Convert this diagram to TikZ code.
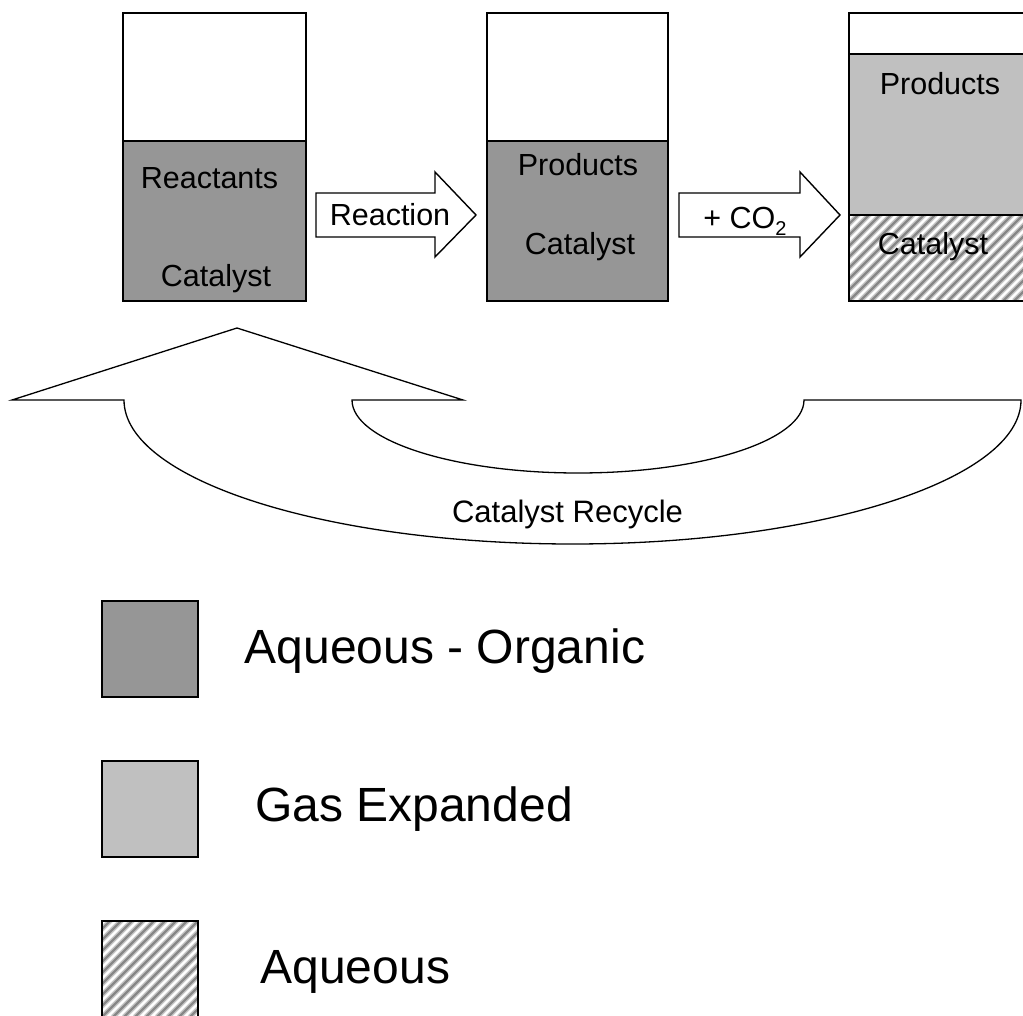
\documentclass[tikz,border=0pt]{standalone}
\usepackage{fontspec}
\setmainfont{Liberation Sans}
\definecolor{darkfill}{RGB}{150,150,150}
\definecolor{lightfill}{RGB}{192,192,192}
\definecolor{hatchsoft}{RGB}{200,200,200}
\definecolor{hatchcore}{RGB}{135,135,135}
\newcommand{\hatchrect}[4]{%
  \begin{scope}
    \clip (#1,#2) rectangle (#3,#4);
    \foreach \k in {-40,...,40}{
      \draw[hatchsoft,line width=5pt] ({#1+\k*11},#2) -- ++(200,200);
      \draw[hatchcore,line width=2.2pt] ({#1+\k*11},#2) -- ++(200,200);
    }
  \end{scope}}
\begin{document}
\begin{tikzpicture}[x=1pt,y=1pt,
  vessel/.style={draw=black,line width=2pt},
  blockarrow/.style={draw=black,fill=white,line width=1.4pt,line join=miter},
  boxtext/.style={anchor=base,inner sep=0pt,font=\fontsize{30.5}{34}\selectfont},
  rectext/.style={anchor=base,inner sep=0pt,font=\fontsize{31}{35}\selectfont},
  legtext/.style={anchor=base,inner sep=0pt,font=\fontsize{48}{54}\selectfont}]
\clip (0,0) rectangle (1023,-1016);
\fill[white] (0,0) rectangle (1023,-1016);

% Vessel 1
\fill[darkfill] (123,-141) rectangle (306,-301);
\draw[vessel] (123,-13) rectangle (306,-301);
\draw[vessel] (123,-141) -- (306,-141);
\node[boxtext] (reactants) at (209.5,-188.5) {Reactants};
\node[boxtext] (cat1) at (216,-287) {Catalyst};

% Reaction arrow
\draw[blockarrow] (316,-193) -- (435,-193) -- (435,-172) -- (476,-215) -- (435,-257) -- (435,-237) -- (316,-237) -- cycle;
\node[boxtext] (reaction) at (390,-226) {Reaction};

% Vessel 2
\fill[darkfill] (487,-141) rectangle (668,-301);
\draw[vessel] (487,-13) rectangle (668,-301);
\draw[vessel] (487,-141) -- (668,-141);
\node[boxtext] (prod2) at (578,-176) {Products};
\node[boxtext] (cat2) at (580,-255) {Catalyst};

% CO2 arrow
\draw[blockarrow] (679,-193) -- (800,-193) -- (800,-172) -- (840,-215) -- (800,-257) -- (800,-237) -- (679,-237) -- cycle;
\node[boxtext] (co2) at (745,-229) {+ CO\raisebox{-0.2em}{\fontsize{20}{22}\selectfont 2}};

% Vessel 3
\fill[lightfill] (849,-54) rectangle (1032,-215);
\hatchrect{849}{-301}{1032}{-215}
\draw[vessel] (849,-13) rectangle (1032,-301);
\draw[vessel] (849,-54) -- (1032,-54);
\draw[vessel] (849,-215) -- (1032,-215);
\node[boxtext] (prod3) at (940,-95) {Products};
\node[boxtext] (cat3) at (933,-255) {Catalyst};

% Recycle arrow
\draw[blockarrow,line width=1.3pt] (12,-400) -- (237,-328) -- (463,-400) -- (352,-400)
  arc[start angle=180,end angle=360,x radius=226pt,y radius=73pt]
  -- (1021,-400)
  arc[start angle=0,end angle=-180,x radius=448.5pt,y radius=144pt]
  -- cycle;
\node[rectext] (recycle) at (567.5,-522) {Catalyst Recycle};

% Legend
\fill[darkfill] (102,-601) rectangle (198,-697);
\draw[vessel] (102,-601) rectangle (198,-697);
\node[legtext] (leg1) at (445,-663.3) {Aqueous - Organic};

\fill[lightfill] (102,-761) rectangle (198,-857);
\draw[vessel] (102,-761) rectangle (198,-857);
\node[legtext] (leg2) at (414,-821) {Gas Expanded};

\hatchrect{102}{-1017}{198}{-921}
\draw[vessel] (102,-921) rectangle (198,-1017);
\node[legtext] (leg3) at (355.3,-983.3) {Aqueous};
\end{tikzpicture}
\end{document}
